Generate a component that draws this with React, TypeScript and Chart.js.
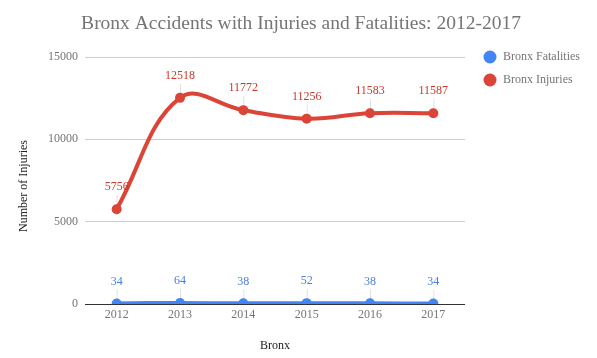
import React, { useEffect, useRef } from "react";
import { Chart, registerables } from "chart.js";

Chart.register(...registerables);

const years = ["2012", "2013", "2014", "2015", "2016", "2017"];
const fatalities = [34, 64, 38, 52, 38, 34];
const injuries = [5756, 12518, 11772, 11256, 11583, 11587];
const yTicks = [0, 5000, 10000, 15000];

const FONT = "'Liberation Serif', 'Times New Roman', serif";
const GRAY = "#757575";
const BLUE = "#4285F4";
const RED = "#DB4437";

const overlay = {
  id: "overlay",
  afterDatasetsDraw(chart: any) {
    const ctx = chart.ctx;
    const area = chart.chartArea;
    ctx.save();
    // data labels
    chart.data.datasets.forEach((ds: any, i: number) => {
      const meta = chart.getDatasetMeta(i);
      meta.data.forEach((pt: any, j: number) => {
        const x = pt.x;
        const y = pt.y;
        ctx.strokeStyle = "rgba(0,0,0,0.12)";
        ctx.lineWidth = 1;
        ctx.beginPath();
        ctx.moveTo(x + 0.5, y - 14);
        ctx.lineTo(x + 0.5, y - 4);
        ctx.stroke();
        ctx.fillStyle = ds.labelColor;
        ctx.font = `12px ${FONT}`;
        ctx.textAlign = "center";
        ctx.textBaseline = "middle";
        ctx.fillText(String(ds.data[j]), x, y - 22);
      });
    });
    // title
    ctx.fillStyle = GRAY;
    ctx.font = `19.5px ${FONT}`;
    ctx.textAlign = "center";
    ctx.textBaseline = "middle";
    ctx.fillText("Bronx Accidents with Injuries and Fatalities: 2012-2017", 301, 24);
    // axis titles
    ctx.font = `12px ${FONT}`;
    ctx.fillStyle = "#222";
    ctx.fillText("Bronx", (area.left + area.right) / 2, 346);
    ctx.save();
    ctx.translate(24, 186);
    ctx.rotate(-Math.PI / 2);
    ctx.fillText("Number of Injuries", 0, 0);
    ctx.restore();
    // legend
    const items = [
      { label: "Bronx Fatalities", color: BLUE },
      { label: "Bronx Injuries", color: RED },
    ];
    items.forEach((it, k) => {
      const cy = 57 + k * 23;
      ctx.fillStyle = it.color;
      ctx.beginPath();
      ctx.arc(490, cy, 6.5, 0, Math.PI * 2);
      ctx.fill();
      ctx.fillStyle = GRAY;
      ctx.textAlign = "left";
      ctx.font = `12px ${FONT}`;
      ctx.fillText(it.label, 503, cy);
    });
    ctx.restore();
  },
};

export default function App() {
  const ref = useRef<HTMLCanvasElement>(null);
  useEffect(() => {
    document.body.style.margin = "0";
    const chart = new Chart(ref.current!, {
      type: "line",
      data: {
        labels: years,
        datasets: [
          {
            label: "Bronx Fatalities",
            data: fatalities,
            borderColor: BLUE,
            backgroundColor: BLUE,
            borderWidth: 4,
            pointRadius: 5,
            pointBorderWidth: 0,
            pointHoverRadius: 5,
            tension: 0.4,
            labelColor: "#4a7fd8",
            order: 1,
          } as any,
          {
            label: "Bronx Injuries",
            data: injuries,
            borderColor: RED,
            backgroundColor: RED,
            borderWidth: 4,
            pointRadius: 5,
            pointBorderWidth: 0,
            pointHoverRadius: 5,
            tension: 0.4,
            labelColor: "#c8392c",
            order: 0,
          } as any,
        ],
      },
      options: {
        animation: false,
        responsive: false,
        layout: { padding: { left: 0, top: 57, right: 132, bottom: 0 } },
        plugins: { legend: { display: false }, title: { display: false }, tooltip: { enabled: false } },
        scales: {
          x: {
            offset: true,
            grid: { display: false, drawTicks: false },
            border: { display: false },
            ticks: { color: GRAY, font: { family: FONT, size: 12 }, padding: 4 },
            afterFit: (s: any) => { s.height = 54; },
          },
          y: {
            min: 0,
            max: 15000,
            afterBuildTicks: (s: any) => { s.ticks = yTicks.map((v) => ({ value: v })); },
            grid: {
              color: (c: any) => (c.tick && c.tick.value === 0 ? "#333" : "#cccccc"),
              drawTicks: false,
              lineWidth: 1,
            },
            border: { display: false },
            ticks: {
              color: GRAY,
              font: { family: FONT, size: 12 },
              padding: 7,
              callback: (v: any) => String(v),
            },
            afterFit: (s: any) => { s.width = 85; },
          },
        },
      },
      plugins: [overlay],
    });
    return () => chart.destroy();
  }, []);
  return (
    <div style={{ width: 597, height: 358 }}>
      <canvas ref={ref} width={597} height={358} />
    </div>
  );
}
